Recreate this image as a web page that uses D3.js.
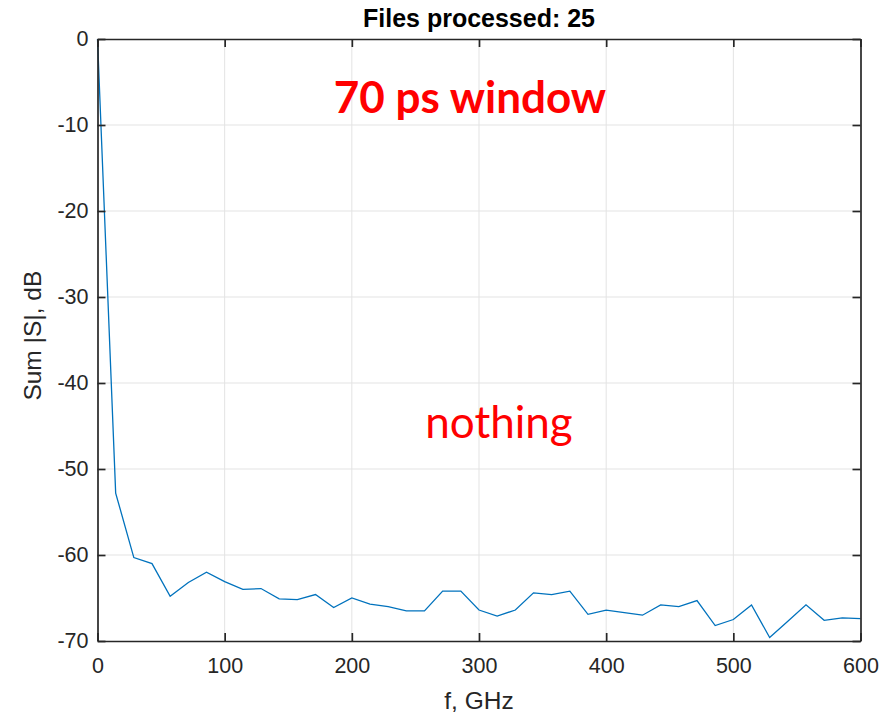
<!DOCTYPE html>
<html>
<head>
<meta charset="utf-8">
<script src="https://cdn.jsdelivr.net/npm/d3@7"></script>
<style>
  body { margin: 0; background: #fff; }
  text { font-family: "Liberation Sans", Arial, sans-serif; fill: #262626; }
  .note { font-family: Lato, "Open Sans", sans-serif; fill: #ff0000; }
</style>
</head>
<body>
<div class="chart"></div>
<script>
// Data
var freqs = [0, 14.29, 28.57, 42.86, 57.14, 71.43, 85.71, 100, 114.29, 128.57,
  142.86, 157.14, 171.43, 185.71, 200, 214.29, 228.57, 242.86, 257.14, 271.43,
  285.71, 300, 314.29, 328.57, 342.86, 357.14, 371.43, 385.71, 400, 414.29,
  428.57, 442.86, 457.14, 471.43, 485.71, 500, 514.29, 528.57, 542.86, 557.14,
  571.43, 585.71, 600];
var sumS = [0, -52.8, -60.3, -61.0, -64.8, -63.2, -62.0, -63.1, -64.0, -63.9,
  -65.1, -65.2, -64.6, -66.1, -65.0, -65.7, -66.0, -66.5, -66.5, -64.2,
  -64.2, -66.4, -67.1, -66.4, -64.4, -64.6, -64.2, -66.9, -66.4, -66.7,
  -67.0, -65.8, -66.0, -65.3, -68.2, -67.5, -65.8, -69.6, -67.7, -65.8,
  -67.6, -67.3, -67.4];
var xTicks = [0, 100, 200, 300, 400, 500, 600];
var yTicks = [0, -10, -20, -30, -40, -50, -60, -70];

var svgWidth = 883;
var svgHeight = 717;
var margin = {top: 39, right: 22.5, bottom: 76, left: 97.5};
var width = svgWidth - margin.left - margin.right;
var height = svgHeight - margin.top - margin.bottom;

var svg = d3.select(".chart")
  .append("svg")
  .attr("width", svgWidth)
  .attr("height", svgHeight);

var chart = svg.append("g")
  .attr("transform", "translate(" + margin.left + "," + margin.top + ")");

var x = d3.scaleLinear().domain([0, 600]).range([0, width]);
var y = d3.scaleLinear().domain([-70, 0]).range([height, 0]);

// grid
chart.append("g").selectAll("line")
  .data(xTicks.slice(1, -1))
  .enter().append("line")
  .attr("x1", function(d) { return x(d); })
  .attr("x2", function(d) { return x(d); })
  .attr("y1", 0).attr("y2", height)
  .style("stroke", "#e3e3e3").style("stroke-width", 1);

chart.append("g").selectAll("line")
  .data(yTicks.slice(1, -1))
  .enter().append("line")
  .attr("y1", function(d) { return y(d); })
  .attr("y2", function(d) { return y(d); })
  .attr("x1", 0).attr("x2", width)
  .style("stroke", "#e3e3e3").style("stroke-width", 1);

// data line
var line = d3.line()
  .x(function(d, i) { return x(freqs[i]); })
  .y(function(d) { return y(d); });

chart.append("path")
  .datum(sumS)
  .attr("d", line)
  .style("fill", "none")
  .style("stroke", "#0072bd")
  .style("stroke-width", 1.3);

// axes with inward ticks on all sides, plain hyphen for negatives
var tickLen = 8;
var fmt = function(d) { return String(d); };
var bottomAxis = d3.axisBottom(x).tickValues(xTicks).tickFormat(fmt).tickSizeInner(-tickLen).tickSizeOuter(0).tickPadding(17);
var topAxis = d3.axisTop(x).tickValues(xTicks).tickSizeInner(-tickLen).tickSizeOuter(0).tickFormat("");
var leftAxis = d3.axisLeft(y).tickValues(yTicks).tickFormat(fmt).tickSizeInner(-tickLen).tickSizeOuter(0).tickPadding(9);
var rightAxis = d3.axisRight(y).tickValues(yTicks).tickSizeInner(-tickLen).tickSizeOuter(0).tickFormat("");

function styleAxis(g) {
  g.select(".domain").style("stroke", "#262626").style("stroke-width", 1.7);
  g.selectAll(".tick line").style("stroke", "#262626").style("stroke-width", 1.7);
  g.selectAll(".tick text").style("font-size", "21.5px").style("fill", "#262626")
    .style("font-family", "'Liberation Sans', Arial, sans-serif");
}

chart.append("g").attr("transform", "translate(0," + height + ")").call(bottomAxis).call(styleAxis);
chart.append("g").call(topAxis).call(styleAxis);
chart.append("g").call(leftAxis).call(styleAxis);
chart.append("g").attr("transform", "translate(" + width + ",0)").call(rightAxis).call(styleAxis);

// title
chart.append("text")
  .attr("x", width / 2)
  .attr("y", -12)
  .attr("text-anchor", "middle")
  .style("font-size", "25px")
  .style("font-weight", "bold")
  .style("fill", "#000")
  .text("Files processed: 25");

// axis labels
chart.append("text")
  .attr("x", width / 2)
  .attr("y", height + 68)
  .attr("text-anchor", "middle")
  .style("font-size", "24.5px")
  .text("f, GHz");

chart.append("text")
  .attr("transform", "rotate(-90)")
  .attr("x", -(y(-34.5)))
  .attr("y", -57)
  .attr("text-anchor", "middle")
  .style("font-size", "24.5px")
  .text("Sum |S|, dB");

// annotations
chart.append("text")
  .attr("class", "note")
  .attr("x", 470 - margin.left)
  .attr("y", 113 - margin.top)
  .attr("text-anchor", "middle")
  .style("font-size", "44px")
  .style("font-weight", "bold")
  .text("70 ps window");

chart.append("text")
  .attr("class", "note")
  .attr("x", 499 - margin.left)
  .attr("y", 438 - margin.top)
  .attr("text-anchor", "middle")
  .style("font-size", "44px")
  .text("nothing");
</script>
</body>
</html>
